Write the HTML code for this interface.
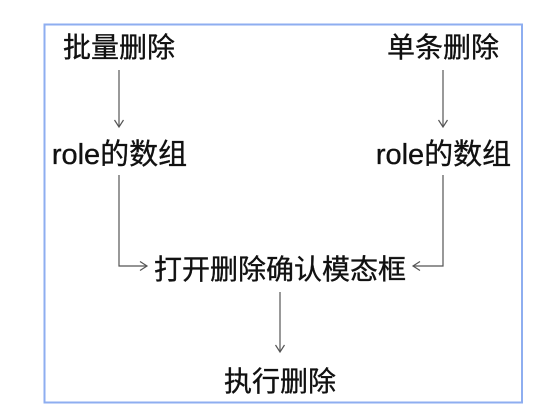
<!DOCTYPE html>
<html><head><meta charset="utf-8"><style>
html,body{margin:0;padding:0;background:#fff;}
svg{display:block;}
text{font-family:"Liberation Sans","Noto Sans CJK SC",sans-serif;font-size:28px;fill:#111;stroke:#111;stroke-width:0.35;text-anchor:middle;}
</style></head><body>
<svg width="557" height="418" viewBox="0 0 557 418" xmlns="http://www.w3.org/2000/svg">
<rect x="0" y="0" width="557" height="418" fill="#fff"/>
<rect x="44.5" y="24.5" width="477.5" height="378" fill="none" stroke="#8eaef0" stroke-width="2"/>
<g stroke="#555" stroke-width="1.2" fill="none">
<line x1="119" y1="70" x2="119" y2="127"/>
<polyline points="114.5,120 119,127 123.5,120"/>
<line x1="443" y1="70" x2="443" y2="127"/>
<polyline points="438.5,120 443,127 447.5,120"/>
<polyline points="119,175 119,266 147,266"/>
<polyline points="140,261.5 147,266 140,270.5"/>
<polyline points="443,175 443,266 413,266"/>
<polyline points="420,261.5 413,266 420,270.5"/>
<line x1="280" y1="292" x2="280" y2="352"/>
<polyline points="275.5,345 280,352 284.5,345"/>
</g>
<text x="119" y="57">批量删除</text>
<text x="443" y="57">单条删除</text>
<text x="119.5" y="164" style="font-size:29px">role的数组</text>
<text x="443.5" y="164" style="font-size:29px">role的数组</text>
<text x="280" y="279">打开删除确认模态框</text>
<text x="280" y="391">执行删除</text>
</svg>
</body></html>
